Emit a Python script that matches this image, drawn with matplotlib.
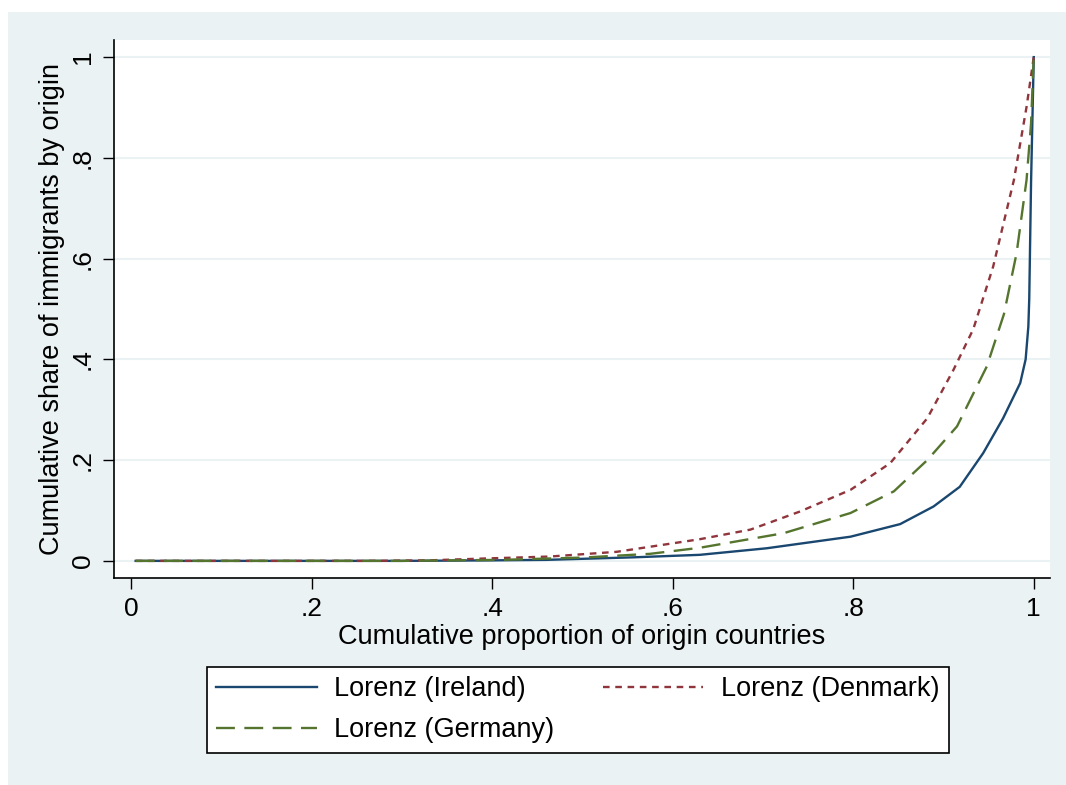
import matplotlib
matplotlib.use("Agg")  # sin pantalla
import matplotlib.pyplot as plt
from matplotlib.patches import Rectangle

# Curvas de Lorenz (proporción acumulada de países, cuota acumulada)
ireland_x = [0.005, 0.30, 0.40, 0.46, 0.556, 0.63, 0.704, 0.797, 0.852, 0.889,
             0.918, 0.944, 0.966, 0.985, 0.991, 0.994, 0.995, 0.997, 1.0]
ireland_y = [0.0, 0.0, 0.001, 0.002, 0.007, 0.012, 0.025, 0.048, 0.073, 0.108,
             0.147, 0.214, 0.283, 0.353, 0.40, 0.465, 0.52, 0.75, 1.0]

denmark_x = [0.005, 0.26, 0.33, 0.39, 0.464, 0.538, 0.63, 0.686, 0.741, 0.797,
             0.841, 0.882, 0.911, 0.933, 0.955, 0.978, 0.992, 1.0]
denmark_y = [0.0, 0.0, 0.001, 0.0046, 0.0086, 0.018, 0.043, 0.062, 0.098, 0.141,
             0.194, 0.283, 0.379, 0.46, 0.584, 0.756, 0.901, 1.0]

germany_x = [0.005, 0.30, 0.41, 0.501, 0.575, 0.63, 0.723, 0.797, 0.845, 0.882,
             0.915, 0.948, 0.967, 0.981, 0.992, 0.997, 1.0]
germany_y = [0.0, 0.0, 0.002, 0.0066, 0.014, 0.026, 0.055, 0.095, 0.138, 0.200,
             0.267, 0.386, 0.49, 0.611, 0.756, 0.868, 1.0]

tick_vals = [0, 0.2, 0.4, 0.6, 0.8, 1]
tick_labels = ["0", ".2", ".4", ".6", ".8", "1"]

BG = "#EAF2F3"
NAVY = "#1A476F"
MAROON = "#90353B"
GREEN = "#55752F"

plt.rcParams["font.family"] = ["Liberation Sans", "DejaVu Sans"]
plt.rcParams["font.size"] = 19.5

fig = plt.figure(figsize=(10.66, 7.85), dpi=100, facecolor="white")
# fondo gris-azulado estilo Stata
fig.patches.append(Rectangle((8 / 1066, 0), 1 - 8 / 1066, 1 - 12 / 785,
                             transform=fig.transFigure, facecolor=BG,
                             edgecolor="none", zorder=-10))

ax = fig.add_axes([114 / 1066, 1 - 578 / 785, (1050 - 114) / 1066, (578 - 40) / 785])
ax.set_facecolor("white")

ax.plot(ireland_x, ireland_y, color=NAVY, lw=1.7, label="Lorenz (Ireland)")
ax.plot(denmark_x, denmark_y, color=MAROON, lw=1.7, linestyle=(0, (2.8, 2.4)),
        label="Lorenz (Denmark)")
ax.plot(germany_x, germany_y, color=GREEN, lw=1.7, linestyle=(0, (8, 4)),
        label="Lorenz (Germany)")

ax.set_xlim(-0.019, 1.018)
ax.set_ylim(-0.034, 1.034)
ax.set_xticks(tick_vals)
ax.set_xticklabels(tick_labels)
ax.set_yticks(tick_vals)
ax.set_yticklabels(tick_labels, rotation=90, va="center")
ax.tick_params(direction="out", length=8, width=1, colors="black", pad=6,
               labelsize=19)

ax.grid(axis="y", color=BG, lw=1.5)
ax.set_axisbelow(True)
for side in ["top", "right"]:
    ax.spines[side].set_visible(False)
for side in ["left", "bottom"]:
    ax.spines[side].set_linewidth(1.2)

ax.set_xlabel("Cumulative proportion of origin countries", labelpad=2)
ax.set_ylabel("Cumulative share of immigrants by origin", labelpad=4)

handles, labels = ax.get_legend_handles_labels()
order = [0, 2, 1]
leg = fig.legend([handles[i] for i in order], [labels[i] for i in order],
                 ncol=2, loc="upper left",
                 bbox_to_anchor=(207 / 1066, 1 - 667 / 785),
                 borderaxespad=0, frameon=True, fancybox=False,
                 edgecolor="black", facecolor="white", framealpha=1,
                 handlelength=3.7, columnspacing=1.8, labelspacing=0.55,
                 borderpad=0.35, handletextpad=0.65)
leg.get_frame().set_linewidth(1.2)

fig.savefig("out.png", dpi=100, facecolor=fig.get_facecolor())
